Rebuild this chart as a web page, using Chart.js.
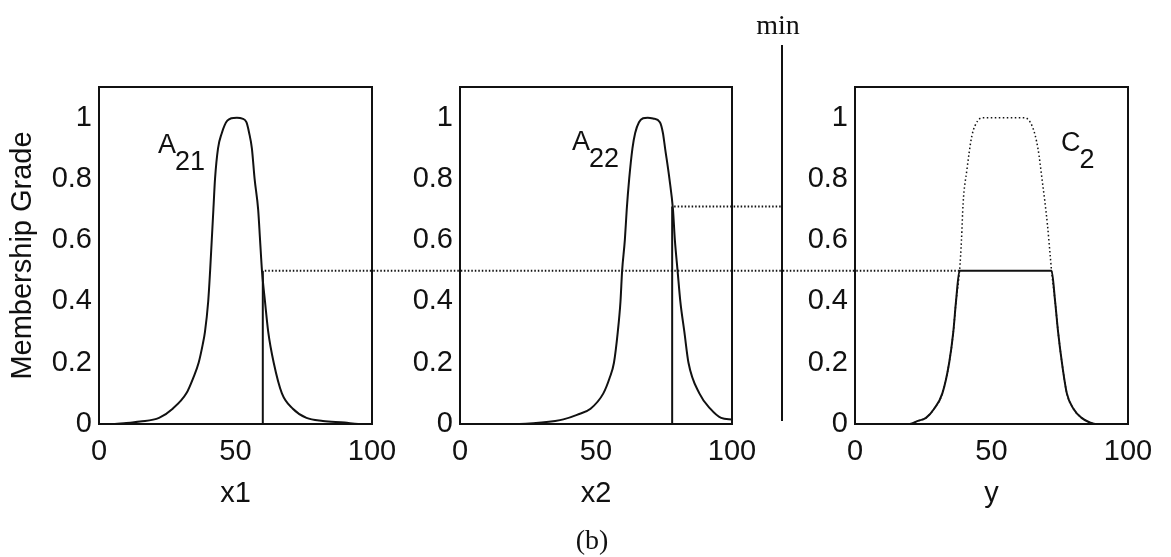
<!DOCTYPE html>
<html>
<head>
<meta charset="utf-8">
<script src="https://cdn.jsdelivr.net/npm/chart.js"></script>
<style>
  html, body { margin: 0; padding: 0; background: #fff; }
  #wrap { position: relative; width: 1171px; height: 557px; overflow: hidden; }
  #wrap canvas { position: absolute; left: 0; top: 0; }
  .serif { position: absolute; width: 100px; text-align: center; line-height: 1;
           font-family: "Liberation Serif", "DejaVu Serif", serif; font-size: 28px; color: #111; }
</style>
</head>
<body>
<div id="wrap">
  <canvas id="c1" width="1171" height="557"></canvas>
  <canvas id="c2" width="1171" height="557"></canvas>
  <canvas id="c3" width="1171" height="557"></canvas>
  <canvas id="links" width="1171" height="557"></canvas>
  <div class="serif" style="left:728px; top:11px;">min</div>
  <div class="serif" style="left:542px; top:526px;">(b)</div>
</div>

<script>
  // axis ticks
  const xTicks = [0, 50, 100];
  const yTicks = [0, 0.2, 0.4, 0.6, 0.8, 1];

  // A21 membership function (input x1)
  const a21X = [0, 5, 10, 15, 22, 27, 32, 34.5, 36.5, 38, 38.8, 40, 40.7, 41.3, 41.9, 42.5, 43.6, 45, 46, 47, 48.5, 50.5, 52.5, 54, 55, 56, 57, 58.3, 59, 59.7, 60.8, 62, 64, 67, 71, 76, 82, 90, 95, 100];
  const a21Y = [0, 0, 0.003, 0.008, 0.02, 0.05, 0.1, 0.15, 0.2, 0.26, 0.3, 0.4, 0.5, 0.6, 0.7, 0.8, 0.9, 0.95, 0.975, 0.99, 0.998, 1, 0.997, 0.985, 0.95, 0.9, 0.8, 0.7, 0.6, 0.5, 0.4, 0.3, 0.2, 0.1, 0.05, 0.02, 0.01, 0.005, 0, 0];

  // A22 membership function (input x2)
  const a22X = [0, 10, 20, 30, 35, 38, 43, 48, 52.7, 55, 56.6, 58, 59, 59.6, 60.6, 61.3, 62.2, 63.4, 64.4, 65.8, 67.3, 69, 71, 73.5, 74.6, 75.4, 77, 78.3, 79, 80, 81, 82.5, 84, 88, 92, 96, 100];
  const a22Y = [0, 0, 0, 0.005, 0.01, 0.015, 0.03, 0.05, 0.1, 0.15, 0.2, 0.3, 0.4, 0.5, 0.6, 0.7, 0.8, 0.9, 0.95, 0.985, 0.998, 1, 0.997, 0.985, 0.95, 0.9, 0.8, 0.7, 0.6, 0.5, 0.4, 0.3, 0.2, 0.1, 0.05, 0.02, 0.015];

  // C2 output set, full and cut at the firing level
  const c2X    = [0, 20, 23, 26, 29, 32, 34.5, 36, 37, 38.3, 39, 39.6, 41, 42.8, 45, 47, 55, 62, 65, 67, 68.5, 70.5, 71.5, 72, 73.3, 74.4, 75.8, 77.6, 80, 83, 86, 88, 100];
  const c2Y    = [0, 0, 0.01, 0.02, 0.05, 0.1, 0.2, 0.3, 0.4, 0.5, 0.6, 0.72, 0.83, 0.94, 0.99, 1, 1, 1, 0.97, 0.9, 0.8, 0.65, 0.55, 0.5, 0.4, 0.3, 0.2, 0.1, 0.05, 0.02, 0.005, 0, 0];
  const c2CutY = [0, 0, 0.01, 0.02, 0.05, 0.1, 0.2, 0.3, 0.4, 0.5, 0.5, 0.5, 0.5, 0.5, 0.5, 0.5, 0.5, 0.5, 0.5, 0.5, 0.5, 0.5, 0.5, 0.5, 0.4, 0.3, 0.2, 0.1, 0.05, 0.02, 0.005, 0, 0];

  // crisp inputs and their grades
  const x1Input = 60, mu1 = 0.5;
  const x2Input = 78, mu2 = 0.71;
  const firing = Math.min(mu1, mu2);

  const ink = '#111';
  const sans = '"Liberation Sans", Arial, sans-serif';

  const pts = (xs, ys) => xs.map((x, i) => ({ x: x, y: ys[i] }));

  // box round the plot and the set name with its subscript
  const frame = {
    id: 'frame',
    afterDatasetsDraw(chart, args, opts) {
      const { ctx, chartArea: a, scales: { x, y } } = chart;
      ctx.save();
      ctx.strokeStyle = ink;
      ctx.lineWidth = 2;
      ctx.strokeRect(a.left, a.top, a.right - a.left, a.bottom - a.top);
      if (opts.name) {
        ctx.fillStyle = ink;
        ctx.font = '27px ' + sans;
        ctx.textBaseline = 'alphabetic';
        const px = x.getPixelForValue(opts.at[0]);
        const py = y.getPixelForValue(opts.at[1]);
        ctx.fillText(opts.name, px, py);
        ctx.fillText(opts.sub, px + ctx.measureText(opts.name).width - 1, py + 17);
      }
      ctx.restore();
    }
  };

  function makeChart(id, cfg) {
    const font = { family: sans, size: 29 };
    return new Chart(document.getElementById(id), {
      type: 'line',
      data: { datasets: cfg.datasets },
      options: {
        responsive: false,
        animation: false,
        events: [],
        layout: { padding: { left: cfg.padLeft, right: cfg.padRight, top: 87, bottom: 43 } },
        plugins: { legend: { display: false }, tooltip: { enabled: false }, frame: cfg.label },
        elements: {
          point: { radius: 0 },
          line: { borderWidth: 2, borderColor: ink, cubicInterpolationMode: 'monotone' }
        },
        scales: {
          x: {
            type: 'linear', min: 0, max: 100,
            grid: { display: false, drawTicks: false },
            border: { display: false },
            afterBuildTicks: s => { s.ticks = xTicks.map(v => ({ value: v })); },
            afterFit: s => { s.height = 90; },
            ticks: { padding: 11, color: ink, font: font, maxRotation: 0, autoSkip: false, callback: v => String(v) },
            title: { display: true, text: cfg.xTitle, color: ink, font: font, padding: { top: 0, bottom: 3 } }
          },
          y: {
            min: 0, max: 1.1,
            grid: { display: false, drawTicks: false },
            border: { display: false },
            afterBuildTicks: s => { s.ticks = yTicks.map(v => ({ value: v })); },
            afterFit: s => { s.width = cfg.yWidth; },
            ticks: { padding: 7, color: ink, font: font, autoSkip: false, callback: v => String(v) },
            title: cfg.yTitle
              ? { display: true, text: cfg.yTitle, color: ink, font: font, padding: { top: 6, bottom: 0 } }
              : { display: false }
          }
        }
      },
      plugins: [frame]
    });
  }

  const ch1 = makeChart('c1', {
    padLeft: 0, padRight: 799, yWidth: 99, xTitle: 'x1', yTitle: 'Membership Grade',
    label: { name: 'A', sub: '21', at: [21.6, 0.886] },
    datasets: [
      { data: pts(a21X, a21Y) },
      { data: [{ x: x1Input, y: 0 }, { x: x1Input, y: mu1 }] }
    ]
  });

  const ch2 = makeChart('c2', {
    padLeft: 390, padRight: 439, yWidth: 70, xTitle: 'x2',
    label: { name: 'A', sub: '22', at: [41.2, 0.895] },
    datasets: [
      { data: pts(a22X, a22Y) },
      { data: [{ x: x2Input, y: 0 }, { x: x2Input, y: mu2 }] }
    ]
  });

  const ch3 = makeChart('c3', {
    padLeft: 790, padRight: 43, yWidth: 65, xTitle: 'y',
    label: { name: 'C', sub: '2', at: [75.5, 0.89] },
    datasets: [
      { data: pts(c2X, c2CutY) },
      { data: pts(c2X, c2Y), borderWidth: 1.5, borderDash: [1.5, 2.5] }
    ]
  });

  // connectors between the panels and the min bar
  const links = document.getElementById('links').getContext('2d');
  const minX = 782;
  const cutStart = c2X[c2CutY.indexOf(firing)];

  links.strokeStyle = ink;
  links.lineWidth = 2;
  links.beginPath();
  links.moveTo(minX, 45);
  links.lineTo(minX, ch2.chartArea.bottom - 3);
  links.stroke();

  links.lineWidth = 2;
  links.setLineDash([1.5, 2]);
  links.beginPath();
  const y1 = ch1.scales.y.getPixelForValue(mu1);
  links.moveTo(ch1.scales.x.getPixelForValue(x1Input) + 2, y1);
  links.lineTo(ch3.scales.x.getPixelForValue(cutStart), ch3.scales.y.getPixelForValue(firing));
  const y2 = ch2.scales.y.getPixelForValue(mu2);
  links.moveTo(ch2.scales.x.getPixelForValue(x2Input) + 2, y2);
  links.lineTo(minX, y2);
  links.stroke();
</script>
</body>
</html>
